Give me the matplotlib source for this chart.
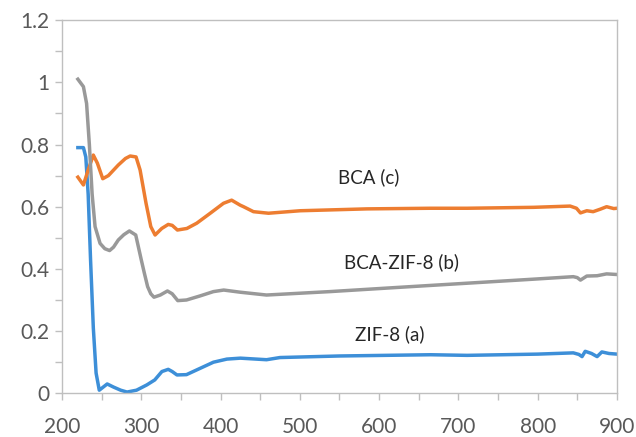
import matplotlib
matplotlib.use("Agg")
import matplotlib.pyplot as plt

plt.rcParams['font.family'] = ['Lato', 'DejaVu Sans']

# ZIF-8 (a)
zif_x = [220, 227, 230, 233, 236, 239.5, 243, 247, 252, 257, 265, 274, 282, 294, 307, 317,
         326, 334, 339, 345, 357, 374, 391, 408, 425, 458, 475, 550, 665, 711, 800, 845,
         852, 856, 860, 868, 875, 881, 890, 900]
zif_y = [0.79, 0.79, 0.76, 0.64, 0.43, 0.21, 0.065, 0.01, 0.02, 0.03, 0.02, 0.01, 0.004, 0.01,
         0.027, 0.043, 0.07, 0.077, 0.07, 0.059, 0.06, 0.08, 0.1, 0.11, 0.113, 0.108, 0.115,
         0.12, 0.124, 0.122, 0.126, 0.13, 0.125, 0.118, 0.135, 0.128, 0.118, 0.133, 0.128, 0.126]

# BCA-ZIF-8 (b)
bz_x = [220, 227, 231, 234.5, 238, 241.7, 248, 254, 260, 265, 271, 278, 285, 293, 300, 304,
        308, 312, 316, 324, 333, 339, 346, 357, 374, 391, 404, 425, 458, 538, 627, 711, 795,
        845, 850, 854, 862, 875, 887, 900]
bz_y = [1.01, 0.986, 0.932, 0.80, 0.64, 0.536, 0.482, 0.465, 0.459, 0.47, 0.493, 0.51, 0.522,
        0.509, 0.429, 0.385, 0.343, 0.32, 0.309, 0.316, 0.329, 0.32, 0.298, 0.30, 0.313, 0.327,
        0.332, 0.325, 0.316, 0.327, 0.341, 0.354, 0.367, 0.375, 0.372, 0.364, 0.377, 0.378,
        0.384, 0.382]

# BCA (c)
bca_x = [220, 227, 233, 239.5, 244.6, 251.4, 258.5, 271, 280, 286, 293.4, 298.5, 306, 312,
         317.4, 325.8, 334, 339, 345.6, 357.5, 370, 387, 403.7, 414, 424.7, 429, 441.5, 460.5,
         500.5, 584.7, 664.6, 711, 795, 841, 849, 854, 862, 870, 879, 887, 896, 900]
bca_y = [0.695, 0.67, 0.718, 0.766, 0.74, 0.69, 0.70, 0.734, 0.755, 0.763, 0.76, 0.718, 0.611,
         0.536, 0.509, 0.53, 0.543, 0.54, 0.525, 0.53, 0.547, 0.579, 0.611, 0.621, 0.605, 0.60,
         0.584, 0.579, 0.587, 0.593, 0.595, 0.595, 0.598, 0.602, 0.595, 0.58, 0.587, 0.584,
         0.592, 0.6, 0.594, 0.595]

labels = ["BCA (c)", "BCA-ZIF-8 (b)", "ZIF-8 (a)"]
label_pos = [(587, 0.696), (628, 0.422), (613, 0.19)]

fig = plt.figure(figsize=(6.36, 4.37), dpi=100)
ax = fig.add_axes([0.0975, 0.100, 0.8725, 0.854])

ax.plot(zif_x, zif_y, color='#3d8fd8', lw=2.5, solid_joinstyle='round')
ax.plot(bca_x, bca_y, color='#ED7D31', lw=2.5, solid_joinstyle='round')
ax.plot(bz_x, bz_y, color='#999999', lw=2.5, solid_joinstyle='round')

for t, (tx, ty) in zip(labels, label_pos):
    ax.text(tx, ty, t, ha='center', va='center', fontsize=13.5, color='#262626')

ax.set_xlim(200, 900)
ax.set_ylim(0, 1.2)
ax.set_xticks(range(200, 901, 100))
ax.set_xticks(range(250, 901, 100), minor=True)
ax.set_yticks([0, 0.2, 0.4, 0.6, 0.8, 1.0, 1.2])
ax.set_yticklabels(['0', '0.2', '0.4', '0.6', '0.8', '1', '1.2'])
ax.set_yticks([0.1, 0.3, 0.5, 0.7, 0.9, 1.1], minor=True)

for s in ax.spines.values():
    s.set_color('#bfbfbf')
    s.set_linewidth(1.0)
ax.tick_params(which='both', direction='out', color='#bfbfbf', width=1.0, length=5)
ax.tick_params(axis='both', which='major', labelsize=15, labelcolor='#595959')
ax.tick_params(axis='x', which='major', pad=12)
ax.tick_params(axis='y', which='major', pad=4)

fig.savefig('out.png', dpi=100)
